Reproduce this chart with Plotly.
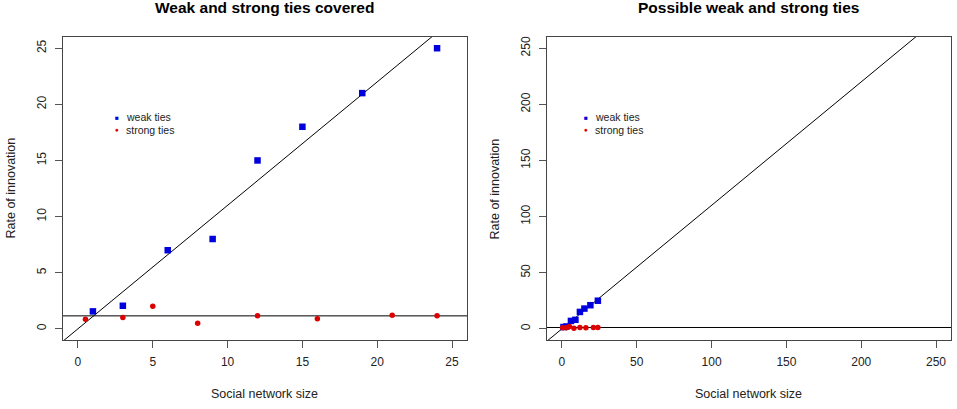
import plotly.graph_objects as go

weak_x = [1, 3, 6, 9, 12, 15, 19, 24]
weak_y = [1.55, 2.05, 7, 8, 15, 18, 21, 25]
strong_x = [0.5, 3, 5, 8, 12, 16, 21, 24]
strong_y = [0.85, 1.0, 2.0, 0.5, 1.15, 0.9, 1.2, 1.15]

# fitted lines
fit_intercept = 0.0
fit_slope = 1.1
flat_level = 1.15

titles = ["Weak and strong ties covered", "Possible weak and strong ties"]
x_ranges = [[-1, 26], [-10, 260]]
y_ranges = [[-1, 26], [-10, 260]]
tick_steps = [5, 50]

BLUE = "#0000DD"
RED = "#DD0000"
FONT = "Liberation Sans, Arial, sans-serif"

W, H = 957, 409
x_domains = [[63 / W, 467 / W], [547 / W, 951 / W]]
y_domain = [(H - 340) / H, (H - 37) / H]

fig = go.Figure()

for i in range(2):
    xa = "x" if i == 0 else "x2"
    ya = "y" if i == 0 else "y2"
    lo, hi = x_ranges[i]
    fig.add_trace(go.Scatter(
        x=[lo, hi], y=[fit_intercept + fit_slope * lo, fit_intercept + fit_slope * hi],
        mode="lines", line=dict(color="black", width=1), xaxis=xa, yaxis=ya,
        showlegend=False, hoverinfo="skip"))
    fig.add_trace(go.Scatter(
        x=[lo, hi], y=[flat_level, flat_level],
        mode="lines", line=dict(color="black", width=1), xaxis=xa, yaxis=ya,
        showlegend=False, hoverinfo="skip"))
    fig.add_trace(go.Scatter(
        x=weak_x, y=weak_y, mode="markers", name="weak ties",
        marker=dict(symbol="square", size=6.5, color=BLUE), xaxis=xa, yaxis=ya,
        showlegend=False))
    fig.add_trace(go.Scatter(
        x=strong_x, y=strong_y, mode="markers", name="strong ties",
        marker=dict(symbol="circle", size=5.5, color=RED), xaxis=xa, yaxis=ya,
        showlegend=False))

axis_common = dict(
    showgrid=False, zeroline=False, showline=True, mirror=True,
    linecolor="#444444", linewidth=1, ticks="outside", ticklen=7,
    tickcolor="#555555", tickfont=dict(family=FONT, size=12, color="#222222"),
    ticklabelstandoff=4,
)

layout = dict(
    width=W, height=H, margin=dict(l=0, r=0, t=0, b=0),
    paper_bgcolor="white", plot_bgcolor="white",
    font=dict(family=FONT, color="#222222"),
    showlegend=False,
)
for i in range(2):
    sx = "" if i == 0 else "2"
    layout["xaxis" + sx] = dict(
        axis_common, domain=x_domains[i], range=x_ranges[i], dtick=tick_steps[i],
        tick0=0, anchor="y" + sx)
    layout["yaxis" + sx] = dict(
        axis_common, domain=y_domain, range=y_ranges[i], dtick=tick_steps[i],
        tick0=0, tickangle=-90, anchor="x" + sx)
fig.update_layout(**layout)

annotations = []
for i in range(2):
    cx = (x_domains[i][0] + x_domains[i][1]) / 2
    annotations.append(dict(
        text="<b>" + titles[i] + "</b>", x=cx, y=1 - 8 / H, xref="paper", yref="paper",
        xanchor="center", yanchor="middle", showarrow=False,
        font=dict(family=FONT, size=15.5, color="black")))
    annotations.append(dict(
        text="Social network size", x=cx, y=1 - 394 / H, xref="paper", yref="paper",
        xanchor="center", yanchor="middle", showarrow=False,
        font=dict(family=FONT, size=12.5, color="#222222")))
    annotations.append(dict(
        text="Rate of innovation", x=(10 if i == 0 else 494) / W,
        y=(y_domain[0] + y_domain[1]) / 2, xref="paper", yref="paper",
        xanchor="center", yanchor="middle", textangle=-90, showarrow=False,
        font=dict(family=FONT, size=12.5, color="#222222")))
    # legend (no box), placed inside the plot area
    lx = (117 if i == 0 else 586) / W
    for j, (sym, col, lab) in enumerate([("■", BLUE, "weak ties"), ("●", RED, "strong ties")]):
        ly = 1 - (117 + 12.5 * j) / H
        annotations.append(dict(
            text=sym, x=lx, y=ly, xref="paper", yref="paper", xanchor="center",
            yanchor="middle", showarrow=False, font=dict(family=FONT, size=6.5, color=col)))
        annotations.append(dict(
            text=lab, x=lx + 7 / W, y=ly, xref="paper", yref="paper", xanchor="left",
            yanchor="middle", showarrow=False,
            font=dict(family=FONT, size=10.5, color="#222222")))
fig.update_layout(annotations=annotations)

# drop the browser's default body margin so the figure fills the window
fig.write_html("out.html", config={"displayModeBar": False},
               post_script="document.body.style.margin='0';")
